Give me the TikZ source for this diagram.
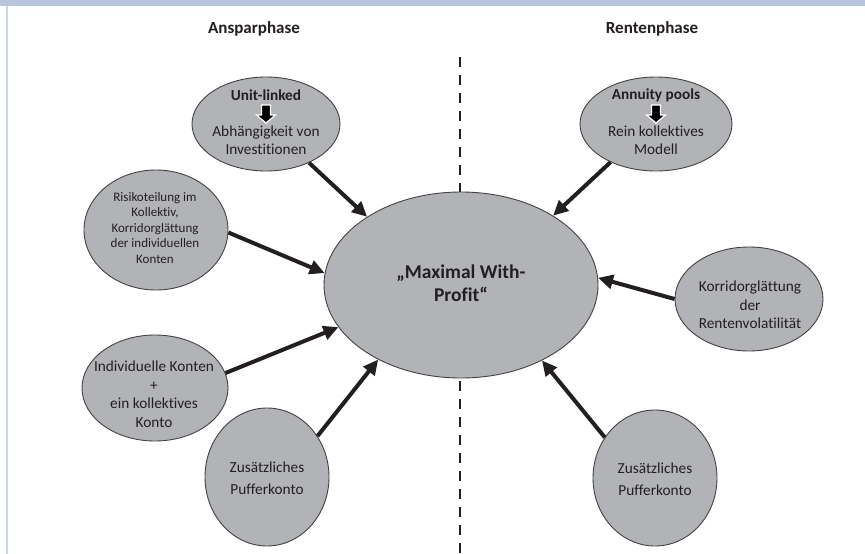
\documentclass[tikz,border=0pt]{standalone}
\usepackage{fontspec}
\setmainfont{Carlito}[Ligatures={NoCommon}]
\usetikzlibrary{shapes.geometric,arrows.meta}
\definecolor{bar}{RGB}{184,196,220}
\definecolor{side}{RGB}{204,214,234}
\definecolor{bub}{RGB}{178,179,183}
\definecolor{ink}{RGB}{35,31,32}
\tikzset{
  bubble/.style={ellipse,draw=ink!85,line width=0.9pt,fill=bub,inner sep=0pt},
  txt/.style={align=center,text=ink,inner sep=0pt,font=\fontsize{15.3}{18.5}\selectfont},
  small/.style={align=center,text=ink,inner sep=0pt,font=\fontsize{13}{15.5}\selectfont},
  head/.style={text=ink,inner sep=0pt,font=\fontsize{17}{20}\selectfont\bfseries},
  arr/.style={draw=ink,line width=4pt,-{Triangle[length=15pt,width=14pt]}},
}
\newcommand{\blockarrow}[2]{%
  \path[fill=black,draw=white,line width=1.2pt]
    (#1-4.5,#2-9) -- (#1+4.5,#2-9) -- (#1+4.5,#2+1) -- (#1+9.5,#2+1)
    -- (#1,#2+9) -- (#1-9.5,#2+1) -- (#1-4.5,#2+1) -- cycle;}
\begin{document}
\begin{tikzpicture}[x=1pt,y=-1pt]
\useasboundingbox (0,0) rectangle (865,554);
\fill[white] (0,0) rectangle (865,554);
\fill[bar] (0,0) rectangle (865,6);
\fill[side] (5.5,6) rectangle (7.5,554);
% titles
\node[head] (t1) at (254,29) {Ansparphase};
\node[head] (t2) at (652,29) {Rentenphase};
% divider
\coordinate (d1) at (460,57);
\coordinate (d2) at (460,554);
\draw[ink,line width=2pt,dash pattern=on 10pt off 8pt] (d1) -- (d2);
% centre
\node[bubble,minimum width=274pt,minimum height=186pt] (c) at (461,285) {};
\node[align=center,text=ink,inner sep=0pt,font=\fontsize{19.5}{23}\selectfont\bfseries] (ct) at (461,283) {„Maximal With-\\Profit“};
% satellites
\node[bubble,minimum width=148pt,minimum height=94pt] (e1) at (266,124) {};
\node[bubble,minimum width=152pt,minimum height=94pt] (e2) at (656,124) {};
\node[bubble,minimum width=144pt,minimum height=120pt] (e3) at (156,230) {};
\node[bubble,minimum width=146pt,minimum height=106pt] (e4) at (155,388) {};
\node[bubble,minimum width=124pt,minimum height=138pt] (e5) at (267,477) {};
\node[bubble,minimum width=148pt,minimum height=104pt] (e6) at (749,299) {};
\node[bubble,minimum width=124pt,minimum height=136pt] (e7) at (655,478) {};
% texts
\node[txt,font=\fontsize{15.3}{18.5}\selectfont\bfseries] (e1a) at (266,95) {Unit-linked};
\blockarrow{266}{114}
\node[txt] (e1b) at (266,140) {Abhängigkeit von\\Investitionen};
\node[txt,font=\fontsize{15.3}{18.5}\selectfont\bfseries] (e2a) at (656,95) {Annuity pools};
\blockarrow{656}{114}
\node[txt] (e2b) at (656,140) {Rein kollektives\\Modell};
\node[small] (e3t) at (155,228) {Risikoteilung im\\Kollektiv,\\Korridorglättung\\der individuellen\\Konten};
\node[txt] (e4t) at (154,394) {Individuelle Konten\\+\\ein kollektives\\Konto};
\node[txt,font=\fontsize{15.3}{22}\selectfont] (e5t) at (267,478) {Zusätzliches\\Pufferkonto};
\node[txt] (e6t) at (750,305) {Korridorglättung\\der\\Rentenvolatilität};
\node[txt,font=\fontsize{15.3}{22}\selectfont] (e7t) at (655,479) {Zusätzliches\\Pufferkonto};
% arrows
\draw[arr] (e1.-42) -- (c.144);
\draw[arr] (e3.-2) -- (c.175);
\draw[arr] (e4.12) -- (c.199);
\draw[arr] (e5.39) -- (c.222);
\draw[arr] (e2.220) -- (c.37);
\draw[arr] (e6.180) -- (c.3);
\draw[arr] (e7.141) -- (c.317);
\end{tikzpicture}
\end{document}
